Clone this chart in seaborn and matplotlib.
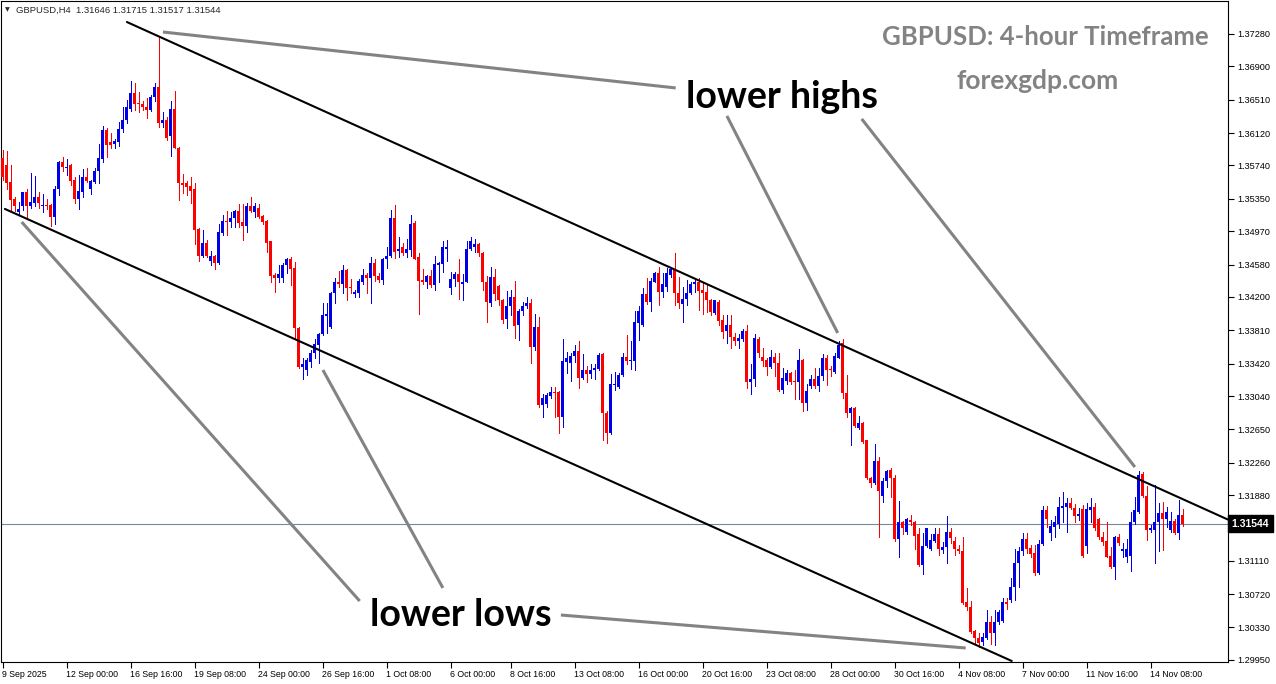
import numpy as np
import pandas as pd
import matplotlib
matplotlib.use("Agg")
import matplotlib.pyplot as plt
import matplotlib.transforms as mtransforms
import seaborn as sns

# ============================================================
# GBPUSD H4 candles (9 Sep 2025 16:00 -> 14 Nov 2025 08:00)
# values
# ============================================================
opens = [
    1.3583, 1.3574, 1.3555, 1.3535, 1.3520, 1.3527, 1.3543, 1.3527, 1.3530, 1.3537,
    1.3527, 1.3528, 1.3528, 1.3514, 1.3546, 1.3578, 1.3571, 1.3574, 1.3557, 1.3535,
    1.3543, 1.3561, 1.3547, 1.3555, 1.3567, 1.3582, 1.3616, 1.3601, 1.3599, 1.3602,
    1.3617, 1.3627, 1.3640, 1.3659, 1.3647, 1.3646, 1.3643, 1.3639, 1.3654, 1.3666,
    1.3624, 1.3627, 1.3608, 1.3640, 1.3595, 1.3554, 1.3553, 1.3550, 1.3546, 1.3500,
    1.3468, 1.3483, 1.3462, 1.3468, 1.3460, 1.3495, 1.3509, 1.3508, 1.3513, 1.3521,
    1.3508, 1.3503, 1.3526, 1.3520, 1.3524, 1.3515, 1.3509, 1.3485, 1.3446, 1.3442,
    1.3442, 1.3457, 1.3464, 1.3454, 1.3384, 1.3338, 1.3334, 1.3344, 1.3355, 1.3364,
    1.3377, 1.3398, 1.3385, 1.3425, 1.3438, 1.3435, 1.3452, 1.3432, 1.3423, 1.3425,
    1.3438, 1.3446, 1.3442, 1.3460, 1.3445, 1.3440, 1.3464, 1.3468, 1.3513, 1.3474,
    1.3478, 1.3471, 1.3475, 1.3507, 1.3467, 1.3440, 1.3438, 1.3445, 1.3434, 1.3457,
    1.3459, 1.3476, 1.3431, 1.3441, 1.3447, 1.3435, 1.3438, 1.3476, 1.3479, 1.3482,
    1.3472, 1.3438, 1.3413, 1.3444, 1.3433, 1.3417, 1.3394, 1.3409, 1.3420, 1.3387,
    1.3404, 1.3410, 1.3413, 1.3362, 1.3385, 1.3294, 1.3295, 1.3304, 1.3309, 1.3309,
    1.3279, 1.3344, 1.3343, 1.3351, 1.3357, 1.3325, 1.3334, 1.3330, 1.3334, 1.3336,
    1.3353, 1.3284, 1.3261, 1.3317, 1.3315, 1.3329, 1.3350, 1.3345, 1.3345, 1.3390,
    1.3387, 1.3423, 1.3414, 1.3438, 1.3448, 1.3426, 1.3432, 1.3446, 1.3453, 1.3425,
    1.3412, 1.3418, 1.3425, 1.3435, 1.3437, 1.3428, 1.3426, 1.3416, 1.3401, 1.3414,
    1.3393, 1.3380, 1.3387, 1.3373, 1.3368, 1.3371, 1.3380, 1.3321, 1.3324, 1.3371,
    1.3350, 1.3346, 1.3338, 1.3350, 1.3343, 1.3311, 1.3322, 1.3331, 1.3322, 1.3321,
    1.3346, 1.3296, 1.3316, 1.3324, 1.3316, 1.3327, 1.3349, 1.3336, 1.3332, 1.3349,
    1.3366, 1.3308, 1.3284, 1.3290, 1.3267, 1.3273, 1.3252, 1.3208, 1.3202, 1.3228,
    1.3187, 1.3204, 1.3218, 1.3208, 1.3137, 1.3157, 1.3145, 1.3159, 1.3157, 1.3142,
    1.3106, 1.3129, 1.3125, 1.3134, 1.3143, 1.3124, 1.3127, 1.3145, 1.3134, 1.3125,
    1.3122, 1.3063, 1.3057, 1.3029, 1.3021, 1.3016, 1.3021, 1.3040, 1.3026, 1.3040,
    1.3041, 1.3063, 1.3065, 1.3081, 1.3109, 1.3123, 1.3137, 1.3126, 1.3120, 1.3097,
    1.3131, 1.3171, 1.3144, 1.3151, 1.3154, 1.3173, 1.3174, 1.3179, 1.3173, 1.3164,
    1.3172, 1.3129, 1.3171, 1.3174, 1.3160, 1.3139, 1.3134, 1.3117, 1.3104, 1.3139,
    1.3122, 1.3116, 1.3117, 1.3156, 1.3168, 1.3213, 1.3187, 1.3147, 1.3147, 1.3156,
    1.3167, 1.3160, 1.3147, 1.3158, 1.3144, 1.31646,
]
highs = [
    1.3592, 1.3591, 1.3575, 1.3537, 1.3531, 1.3543, 1.3546, 1.3565, 1.3562, 1.3543,
    1.3541, 1.3535, 1.3529, 1.3550, 1.3579, 1.3584, 1.3582, 1.3576, 1.3560, 1.3563,
    1.3570, 1.3571, 1.3557, 1.3571, 1.3599, 1.3620, 1.3618, 1.3612, 1.3605, 1.3625,
    1.3643, 1.3651, 1.3673, 1.3670, 1.3660, 1.3649, 1.3653, 1.3657, 1.3671, 1.3726,
    1.3637, 1.3631, 1.3650, 1.3661, 1.3596, 1.3564, 1.3556, 1.3561, 1.3553, 1.3501,
    1.3499, 1.3487, 1.3474, 1.3469, 1.3505, 1.3516, 1.3521, 1.3520, 1.3522, 1.3529,
    1.3529, 1.3530, 1.3537, 1.3530, 1.3529, 1.3516, 1.3510, 1.3486, 1.3448, 1.3458,
    1.3460, 1.3466, 1.3467, 1.3461, 1.3385, 1.3349, 1.3349, 1.3358, 1.3371, 1.3378,
    1.3413, 1.3413, 1.3426, 1.3442, 1.3451, 1.3458, 1.3453, 1.3441, 1.3428, 1.3441,
    1.3453, 1.3448, 1.3467, 1.3464, 1.3448, 1.3466, 1.3479, 1.3522, 1.3528, 1.3490,
    1.3483, 1.3488, 1.3516, 1.3509, 1.3471, 1.3453, 1.3446, 1.3452, 1.3468, 1.3461,
    1.3486, 1.3487, 1.3449, 1.3449, 1.3465, 1.3447, 1.3485, 1.3490, 1.3488, 1.3483,
    1.3473, 1.3445, 1.3455, 1.3453, 1.3434, 1.3418, 1.3427, 1.3428, 1.3439, 1.3406,
    1.3414, 1.3420, 1.3418, 1.3400, 1.3396, 1.3307, 1.3308, 1.3315, 1.3315, 1.3310,
    1.3371, 1.3356, 1.3355, 1.3364, 1.3368, 1.3353, 1.3339, 1.3341, 1.3341, 1.3355,
    1.3355, 1.3286, 1.3330, 1.3332, 1.3331, 1.3355, 1.3375, 1.3368, 1.3404, 1.3410,
    1.3430, 1.3442, 1.3442, 1.3449, 1.3455, 1.3448, 1.3454, 1.3455, 1.3472, 1.3444,
    1.3432, 1.3440, 1.3437, 1.3441, 1.3442, 1.3437, 1.3434, 1.3418, 1.3417, 1.3417,
    1.3399, 1.3399, 1.3399, 1.3378, 1.3377, 1.3382, 1.3387, 1.3341, 1.3377, 1.3373,
    1.3360, 1.3349, 1.3358, 1.3355, 1.3355, 1.3337, 1.3334, 1.3332, 1.3334, 1.3359,
    1.3347, 1.3318, 1.3329, 1.3337, 1.3337, 1.3353, 1.3352, 1.3339, 1.3355, 1.3368,
    1.3371, 1.3329, 1.3291, 1.3291, 1.3281, 1.3274, 1.3253, 1.3209, 1.3248, 1.3233,
    1.3208, 1.3218, 1.3220, 1.3211, 1.3181, 1.3158, 1.3161, 1.3165, 1.3158, 1.3149,
    1.3144, 1.3150, 1.3143, 1.3149, 1.3149, 1.3133, 1.3163, 1.3150, 1.3139, 1.3130,
    1.3139, 1.3079, 1.3064, 1.3030, 1.3027, 1.3027, 1.3053, 1.3047, 1.3053, 1.3054,
    1.3067, 1.3067, 1.3091, 1.3125, 1.3127, 1.3144, 1.3144, 1.3130, 1.3130, 1.3136,
    1.3175, 1.3175, 1.3159, 1.3163, 1.3186, 1.3192, 1.3185, 1.3185, 1.3178, 1.3173,
    1.3177, 1.3179, 1.3185, 1.3179, 1.3161, 1.3145, 1.3156, 1.3127, 1.3140, 1.3142,
    1.3132, 1.3137, 1.3168, 1.3186, 1.3216, 1.3215, 1.3199, 1.3153, 1.3200, 1.3179,
    1.3180, 1.3174, 1.3168, 1.3160, 1.3182, 1.31715,
]
lows = [
    1.3557, 1.3546, 1.3522, 1.3521, 1.3516, 1.3522, 1.3514, 1.3524, 1.3526, 1.3524,
    1.3519, 1.3523, 1.3503, 1.3505, 1.3540, 1.3568, 1.3563, 1.3551, 1.3530, 1.3523,
    1.3537, 1.3555, 1.3541, 1.3553, 1.3553, 1.3578, 1.3584, 1.3595, 1.3595, 1.3597,
    1.3613, 1.3624, 1.3638, 1.3639, 1.3637, 1.3639, 1.3630, 1.3638, 1.3649, 1.3619,
    1.3619, 1.3604, 1.3585, 1.3594, 1.3534, 1.3542, 1.3540, 1.3530, 1.3482, 1.3462,
    1.3467, 1.3467, 1.3457, 1.3453, 1.3459, 1.3493, 1.3493, 1.3502, 1.3502, 1.3502,
    1.3487, 1.3496, 1.3519, 1.3514, 1.3513, 1.3506, 1.3473, 1.3437, 1.3426, 1.3438,
    1.3438, 1.3448, 1.3434, 1.3371, 1.3337, 1.3324, 1.3329, 1.3338, 1.3349, 1.3343,
    1.3376, 1.3378, 1.3384, 1.3413, 1.3432, 1.3425, 1.3417, 1.3425, 1.3420, 1.3420,
    1.3435, 1.3425, 1.3413, 1.3439, 1.3437, 1.3435, 1.3454, 1.3467, 1.3466, 1.3467,
    1.3469, 1.3467, 1.3468, 1.3464, 1.3400, 1.3435, 1.3430, 1.3432, 1.3428, 1.3437,
    1.3449, 1.3462, 1.3423, 1.3433, 1.3418, 1.3417, 1.3437, 1.3475, 1.3473, 1.3468,
    1.3428, 1.3391, 1.3410, 1.3416, 1.3411, 1.3390, 1.3384, 1.3399, 1.3372, 1.3370,
    1.3399, 1.3407, 1.3343, 1.3358, 1.3291, 1.3279, 1.3291, 1.3302, 1.3279, 1.3261,
    1.3268, 1.3331, 1.3322, 1.3344, 1.3314, 1.3324, 1.3320, 1.3325, 1.3324, 1.3335,
    1.3252, 1.3249, 1.3260, 1.3311, 1.3314, 1.3327, 1.3341, 1.3336, 1.3335, 1.3370,
    1.3386, 1.3412, 1.3404, 1.3437, 1.3411, 1.3420, 1.3427, 1.3444, 1.3411, 1.3407,
    1.3391, 1.3411, 1.3423, 1.3426, 1.3405, 1.3400, 1.3403, 1.3399, 1.3400, 1.3387,
    1.3372, 1.3366, 1.3360, 1.3364, 1.3360, 1.3368, 1.3314, 1.3307, 1.3316, 1.3350,
    1.3339, 1.3329, 1.3337, 1.3327, 1.3310, 1.3308, 1.3318, 1.3318, 1.3300, 1.3301,
    1.3286, 1.3288, 1.3314, 1.3314, 1.3310, 1.3323, 1.3317, 1.3327, 1.3331, 1.3348,
    1.3302, 1.3280, 1.3247, 1.3268, 1.3266, 1.3249, 1.3207, 1.3197, 1.3201, 1.3139,
    1.3180, 1.3197, 1.3186, 1.3134, 1.3116, 1.3142, 1.3142, 1.3153, 1.3125, 1.3105,
    1.3096, 1.3127, 1.3124, 1.3133, 1.3118, 1.3120, 1.3109, 1.3132, 1.3118, 1.3120,
    1.3060, 1.3053, 1.3027, 1.3014, 1.3010, 1.3012, 1.3020, 1.3014, 1.3013, 1.3037,
    1.3040, 1.3055, 1.3063, 1.3065, 1.3081, 1.3118, 1.3120, 1.3116, 1.3094, 1.3096,
    1.3130, 1.3151, 1.3136, 1.3139, 1.3150, 1.3157, 1.3145, 1.3172, 1.3157, 1.3159,
    1.3116, 1.3120, 1.3156, 1.3147, 1.3137, 1.3130, 1.3115, 1.3103, 1.3090, 1.3130,
    1.3116, 1.3110, 1.3099, 1.3154, 1.3167, 1.3186, 1.3136, 1.3145, 1.3109, 1.3122,
    1.3124, 1.3151, 1.3145, 1.3143, 1.3137, 1.31517,
]
closes = [
    1.3561, 1.3554, 1.3534, 1.3527, 1.3523, 1.3543, 1.3527, 1.3531, 1.3537, 1.3530,
    1.3528, 1.3527, 1.3514, 1.3546, 1.3578, 1.3572, 1.3572, 1.3556, 1.3535, 1.3544,
    1.3561, 1.3556, 1.3556, 1.3568, 1.3583, 1.3616, 1.3598, 1.3598, 1.3603, 1.3617,
    1.3627, 1.3642, 1.3659, 1.3646, 1.3646, 1.3642, 1.3639, 1.3654, 1.3666, 1.3624,
    1.3627, 1.3606, 1.3640, 1.3595, 1.3554, 1.3551, 1.3549, 1.3544, 1.3499, 1.3468,
    1.3483, 1.3468, 1.3468, 1.3460, 1.3496, 1.3509, 1.3508, 1.3513, 1.3521, 1.3507,
    1.3503, 1.3526, 1.3521, 1.3526, 1.3514, 1.3508, 1.3483, 1.3445, 1.3442, 1.3447,
    1.3458, 1.3464, 1.3453, 1.3384, 1.3338, 1.3342, 1.3346, 1.3355, 1.3365, 1.3377,
    1.3399, 1.3400, 1.3425, 1.3438, 1.3435, 1.3452, 1.3431, 1.3430, 1.3426, 1.3439,
    1.3446, 1.3442, 1.3460, 1.3445, 1.3440, 1.3464, 1.3468, 1.3513, 1.3473, 1.3476,
    1.3471, 1.3476, 1.3506, 1.3465, 1.3439, 1.3438, 1.3445, 1.3434, 1.3459, 1.3460,
    1.3479, 1.3479, 1.3441, 1.3447, 1.3437, 1.3438, 1.3476, 1.3485, 1.3482, 1.3471,
    1.3437, 1.3414, 1.3444, 1.3423, 1.3416, 1.3393, 1.3409, 1.3420, 1.3386, 1.3404,
    1.3410, 1.3413, 1.3362, 1.3385, 1.3294, 1.3302, 1.3305, 1.3309, 1.3308, 1.3279,
    1.3345, 1.3349, 1.3351, 1.3357, 1.3325, 1.3335, 1.3330, 1.3334, 1.3337, 1.3352,
    1.3284, 1.3261, 1.3318, 1.3318, 1.3329, 1.3350, 1.3345, 1.3346, 1.3391, 1.3404,
    1.3423, 1.3414, 1.3439, 1.3448, 1.3426, 1.3435, 1.3448, 1.3453, 1.3425, 1.3413,
    1.3418, 1.3425, 1.3435, 1.3437, 1.3427, 1.3425, 1.3416, 1.3403, 1.3416, 1.3392,
    1.3379, 1.3387, 1.3373, 1.3369, 1.3372, 1.3380, 1.3321, 1.3324, 1.3372, 1.3355,
    1.3345, 1.3338, 1.3350, 1.3343, 1.3311, 1.3325, 1.3331, 1.3321, 1.3321, 1.3346,
    1.3296, 1.3310, 1.3324, 1.3316, 1.3327, 1.3349, 1.3335, 1.3334, 1.3351, 1.3364,
    1.3308, 1.3284, 1.3290, 1.3269, 1.3273, 1.3250, 1.3208, 1.3202, 1.3228, 1.3193,
    1.3204, 1.3216, 1.3208, 1.3137, 1.3156, 1.3149, 1.3160, 1.3157, 1.3140, 1.3106,
    1.3129, 1.3149, 1.3136, 1.3143, 1.3125, 1.3127, 1.3145, 1.3138, 1.3125, 1.3122,
    1.3062, 1.3057, 1.3028, 1.3021, 1.3015, 1.3022, 1.3040, 1.3026, 1.3040, 1.3051,
    1.3063, 1.3061, 1.3081, 1.3109, 1.3123, 1.3137, 1.3125, 1.3119, 1.3097, 1.3131,
    1.3171, 1.3160, 1.3152, 1.3156, 1.3174, 1.3175, 1.3179, 1.3173, 1.3164, 1.3166,
    1.3117, 1.3172, 1.3174, 1.3149, 1.3139, 1.3133, 1.3116, 1.3104, 1.3139, 1.3132,
    1.3125, 1.3125, 1.3157, 1.3170, 1.3212, 1.3187, 1.3147, 1.3149, 1.3156, 1.3167,
    1.3160, 1.3168, 1.3158, 1.3144, 1.3165, 1.31544,
]

# time axis labels and the bar each one sits on
time_labels = ["9 Sep 2025", "12 Sep 00:00", "16 Sep 16:00", "19 Sep 08:00", "24 Sep 00:00",
               "26 Sep 16:00", "1 Oct 08:00", "6 Oct 00:00", "8 Oct 16:00", "13 Oct 08:00",
               "16 Oct 00:00", "20 Oct 16:00", "23 Oct 08:00", "28 Oct 00:00", "30 Oct 16:00",
               "4 Nov 08:00", "7 Nov 00:00", "11 Nov 16:00", "14 Nov 08:00"]
time_label_bars = [0, 16, 32, 48, 64, 80, 96, 112, 127, 143,
                   159, 175, 191, 207, 223, 239, 255, 271, 287]

price_ticks = [1.37280, 1.36900, 1.36510, 1.36120, 1.35740, 1.35350, 1.34970, 1.34580,
               1.34200, 1.33810, 1.33420, 1.33040, 1.32650, 1.32260, 1.31880, 1.31490,
               1.31110, 1.30720, 1.30330, 1.29950]
last_price = 1.31544
header_text = "GBPUSD,H4  1.31646 1.31715 1.31517 1.31544"

# channel (bar index, price)
upper_channel_bar = [31.1, 306.3]
upper_channel_price = [1.37420, 1.31595]
lower_channel_bar = [0.6, 252.3]
lower_channel_price = [1.35231, 1.29938]

# grey pointer lines from the labels to the swing points (bar index, price)
highs_pointer_bars = [[40.1, 168.3], [181.1, 208.8], [214.8, 283.1]]
highs_pointer_prices = [[1.37303, 1.36648], [1.36320, 1.33779], [1.36285, 1.32209]]
lows_pointer_bars = [[4.8, 89.3], [80.1, 110.1], [139.6, 240.8]]
lows_pointer_prices = [[1.35078, 1.30640], [1.33345, 1.30793], [1.30476, 1.30090]]

BULL = "#0000e6"
BEAR = "#ff0000"
GREY = "#838383"

df = pd.DataFrame({"open": opens, "high": highs, "low": lows, "close": closes})
df["bar"] = np.arange(len(df))
df["up"] = df["close"] >= df["open"]

sns.set_style("ticks")
plt.rcParams["font.family"] = ["Liberation Sans", "DejaVu Sans"]

W, H = 1276, 684
fig = plt.figure(figsize=(W / 100, H / 100), dpi=100)
ax = fig.add_axes([1 / W, 22 / H, 1227 / W, 661 / H])

colors = np.where(df["up"], BULL, BEAR)

# wicks + bodies, 4 px per bar: 3 px body, 1 px wick
ax.vlines(df["bar"], df["low"], df["high"], colors=colors, linewidth=0.7,
          antialiased=False, zorder=2)
body_low = np.minimum(df["open"], df["close"])
body_h = np.maximum((df["close"] - df["open"]).abs(), 0.00009)
ax.bar(df["bar"], body_h, bottom=body_low, width=0.74, color=colors,
       linewidth=0, antialiased=False, zorder=3)

# channel lines
sns.lineplot(x=upper_channel_bar, y=upper_channel_price, ax=ax, color="black",
             linewidth=1.5, zorder=5)
sns.lineplot(x=lower_channel_bar, y=lower_channel_price, ax=ax, color="black",
             linewidth=1.5, zorder=5)

# pointer lines
for bx, py in zip(highs_pointer_bars + lows_pointer_bars,
                  highs_pointer_prices + lows_pointer_prices):
    ax.plot(bx, py, color=GREY, linewidth=2.2, solid_capstyle="butt", zorder=6)

# current price line
ax.axhline(last_price, color="#778899", linewidth=0.8, zorder=1)

# bar i centred on pixel column 2.5 + 4 i
ax.set_xlim(-0.375, 306.375)
ax.set_ylim(1.29926, 1.37666)

# axes styling
for sp in ax.spines.values():
    sp.set_visible(True)
    sp.set_color("black")
    sp.set_linewidth(0.8)

ax.yaxis.tick_right()
ax.set_yticks(price_ticks)
ax.set_yticklabels([f"{p:.5f}" for p in price_ticks])
ax.tick_params(axis="y", right=True, left=False, length=4, width=0.8,
               pad=3, labelsize=6.6, colors="black")

ax.set_xticks(time_label_bars)
ax.set_xticklabels(time_labels)
ax.tick_params(axis="x", bottom=True, length=4, width=0.8, pad=2,
               labelsize=6.3, colors="black")
for lbl in ax.get_xticklabels():
    lbl.set_ha("left")

# price tag on the right axis (covers the 1.31490 level, as in the terminal)
trans = mtransforms.blended_transform_factory(ax.transAxes, ax.transData)
ax.text(1.003, last_price, f"{last_price:.5f}", transform=trans, ha="left",
        va="center", color="white", fontsize=7.5, fontweight="bold", zorder=20,
        clip_on=False,
        bbox=dict(boxstyle="square,pad=0.35", facecolor="black", edgecolor="black"))

# header in the top-left corner
fig.text(5 / W, 1 - 10 / H, "\u25bc", fontsize=4.5, va="center", ha="left",
         family=["DejaVu Sans"])
fig.text(16 / W, 1 - 10 / H, header_text, fontsize=6.8, va="center", ha="left")

# titles and annotations
fig.text(1045 / W, 1 - 45 / H, "GBPUSD: 4-hour Timeframe", color=GREY,
         fontsize=18.5, fontweight="bold", family=["Lato", "DejaVu Sans"],
         ha="center", va="baseline")
fig.text(1038 / W, 1 - 89 / H, "forexgdp.com", color=GREY,
         fontsize=19, fontweight="bold", family=["Lato", "DejaVu Sans"],
         ha="center", va="baseline")
fig.text(686 / W, 1 - 108 / H, "lower highs", color="black", fontsize=27,
         fontweight="bold", family=["Lato", "DejaVu Sans"], ha="left", va="baseline")
fig.text(370 / W, 1 - 626 / H, "lower lows", color="black", fontsize=27,
         fontweight="bold", family=["Lato", "DejaVu Sans"], ha="left", va="baseline")

fig.savefig("out.png", dpi=100)
